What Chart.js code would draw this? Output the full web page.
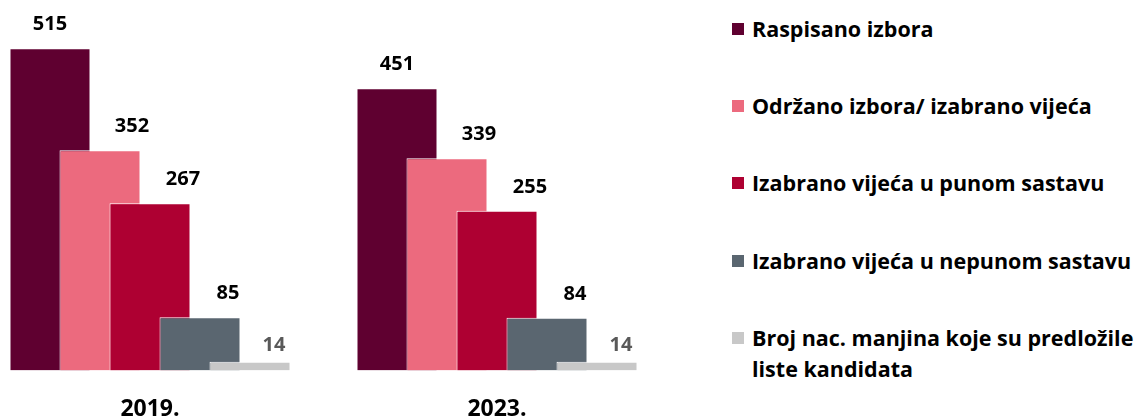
<!DOCTYPE html>
<html lang="hr">
<head>
    <meta charset="UTF-8">
    <title>Izbori za vijeća nacionalnih manjina 2019. i 2023.</title>
    <script src="https://cdn.jsdelivr.net/npm/chart.js"></script>
    <style>
        html, body { margin: 0; padding: 0; background: #fff; }
        body { width: 1147px; height: 416px; position: relative; overflow: hidden; font-family: "Open Sans", sans-serif; }
        #chartBox { position: absolute; left: 0; top: 0; width: 720px; height: 416px; }
        #legend { position: absolute; left: 732px; top: 0; margin: 0; padding: 0; list-style: none; }
        #legend li { position: absolute; left: 0; white-space: nowrap; font-weight: bold; font-size: 21.5px; line-height: 31px; color: #000; }
        #legend li span.box { position: absolute; left: 0; top: 10px; width: 12px; height: 12px; }
        #legend li div { margin-left: 20px; }
    </style>
</head>
<body>
    <div id="chartBox"><canvas id="izboriChart" width="720" height="416"></canvas></div>
    <ul id="legend"></ul>

    <script>
        // podaci
        const years = ['2019.', '2023.'];
        const seriesNames = [
            'Raspisano izbora',
            'Održano izbora/ izabrano vijeća',
            'Izabrano vijeća u punom sastavu',
            'Izabrano vijeća u nepunom sastavu',
            ['Broj nac. manjina koje su predložile', 'liste kandidata']
        ];
        const raspisano = [515, 451];
        const odrzano = [352, 339];
        const punomSastavu = [267, 255];
        const nepunomSastavu = [85, 84];
        const manjineListe = [14, 14];

        const seriesValues = [raspisano, odrzano, punomSastavu, nepunomSastavu, manjineListe];
        const colors = ['#5F0030', '#EC6A7E', '#AE0032', '#5A6670', '#C8C8C8'];
        const labelColors = ['#000', '#000', '#000', '#000', '#595959'];
        const labelShift = [0, 32, 33, 28, 24];   // pomak oznaka vrijednosti (px)

        // x os u "slotovima" jednog stupca; grupe udaljene ~6.94 slota
        const groupGap = 6.94;

        const datasets = seriesValues.map((vals, i) => ({
            label: Array.isArray(seriesNames[i]) ? seriesNames[i].join(' ') : seriesNames[i],
            data: vals.map((v, g) => ({ x: g * groupGap + (i - 2), y: v })),
            backgroundColor: colors[i],
            borderColor: '#fff',
            borderWidth: 1,
            grouped: false,
            barPercentage: 1.62,
            categoryPercentage: 1,
            order: seriesValues.length - 1 - i
        }));

        const valueLabels = {
            id: 'valueLabels',
            afterDatasetsDraw(chart) {
                const ctx = chart.ctx;
                ctx.save();
                ctx.font = 'bold 20px "Open Sans", sans-serif';
                ctx.textAlign = 'center';
                ctx.textBaseline = 'alphabetic';
                seriesValues.forEach((vals, i) => {
                    const meta = chart.getDatasetMeta(i);
                    meta.data.forEach((bar, j) => {
                        ctx.fillStyle = labelColors[i];
                        const gap = i === 4 ? 11 : 18;
                        ctx.fillText(String(vals[j]), bar.x + labelShift[i], bar.y - gap);
                    });
                });
                ctx.restore();
            }
        };

        new Chart(document.getElementById('izboriChart'), {
            type: 'bar',
            data: { datasets: datasets },
            options: {
                responsive: false,
                animation: false,
                // tick padding se broji dvaput (iznad i ispod oznake), pa donji padding ide u minus
                layout: { padding: { top: 10, left: 0, right: 0, bottom: -32 } },
                plugins: {
                    legend: { display: false },
                    tooltip: { enabled: false }
                },
                scales: {
                    x: {
                        type: 'linear',
                        min: -3,
                        max: 11.4,
                        offset: false,
                        grid: { display: false, drawTicks: false },
                        border: { display: false },
                        afterBuildTicks: (axis) => {
                            axis.ticks = years.map((y, g) => ({ value: g * groupGap }));
                        },
                        ticks: {
                            padding: 25,
                            maxRotation: 0,
                            autoSkip: false,
                            color: '#000',
                            font: { family: '"Open Sans", sans-serif', weight: 'bold', size: 23 },
                            callback: (value, index) => years[index]
                        }
                    },
                    y: { display: false, min: 0, max: 576 }
                }
            },
            plugins: [valueLabels]
        });

        // legenda
        const legendTops = [13, 90, 167, 245, 322];
        const legend = document.getElementById('legend');
        seriesNames.forEach((name, i) => {
            const li = document.createElement('li');
            li.style.top = legendTops[i] + 'px';
            const box = document.createElement('span');
            box.className = 'box';
            box.style.background = colors[i];
            li.appendChild(box);
            const lines = Array.isArray(name) ? name : [name];
            lines.forEach(t => {
                const d = document.createElement('div');
                d.textContent = t;
                li.appendChild(d);
            });
            legend.appendChild(li);
        });
    </script>
</body>
</html>
